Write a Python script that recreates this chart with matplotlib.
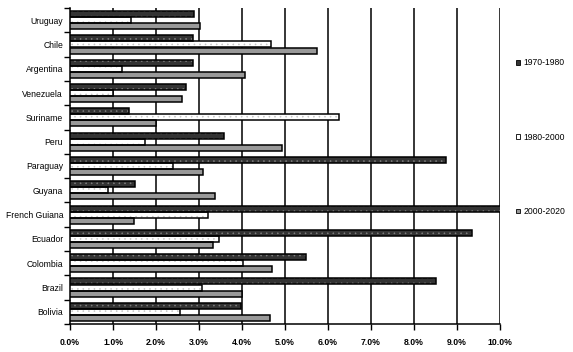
import matplotlib
matplotlib.use("Agg")
import matplotlib.pyplot as plt
from matplotlib.patches import Patch
import numpy as np

countries = ["Bolivia", "Brazil", "Colombia", "Ecuador", "French Guiana", "Guyana",
             "Paraguay", "Peru", "Suriname", "Venezuela", "Argentina", "Chile", "Uruguay"]
s1970_1980 = [3.97, 8.52, 5.48, 9.35, 10.3, 1.51, 8.75, 3.58, 1.38, 2.70, 2.86, 2.87, 2.89]
s1980_2000 = [2.55, 3.08, 4.02, 3.47, 3.20, 0.89, 2.39, 1.74, 6.26, 1.00, 1.20, 4.67, 1.41]
s2000_2020 = [4.65, 3.99, 4.70, 3.32, 1.48, 3.37, 3.09, 4.94, 2.00, 2.61, 4.07, 5.75, 3.03]
series_names = ["1970-1980", "1980-2000", "2000-2020"]
xticks = [0, 1, 2, 3, 4, 5, 6, 7, 8, 9, 10]

plt.rcParams['font.family'] = ['Liberation Sans', 'DejaVu Sans']
plt.rcParams['hatch.linewidth'] = 0.4

W, H = 573, 352
fig = plt.figure(figsize=(W / 100, H / 100), dpi=100)
ax = fig.add_axes([70 / W, 1 - 324 / H, 430 / W, 316 / H])

y = np.arange(len(countries))
bh = 0.247
offs = [0.25, 0.0, -0.25]
faces = ["#333333", "#ffffff", "#999999"]
hatchcols = ["#808080", "#c4c4c4", None]
data = [s1970_1980, s1980_2000, s2000_2020]

for vals, off, fc, hc in zip(data, offs, faces, hatchcols):
    if hc is not None:
        ax.barh(y + off, vals, height=bh, color=fc, edgecolor=hc, hatch='...', linewidth=0, zorder=3)
        ax.barh(y + off, vals, height=bh, fill=False, edgecolor='black', linewidth=1.1, zorder=4)
    else:
        ax.barh(y + off, vals, height=bh, color=fc, edgecolor='black', linewidth=1.1, zorder=3)

ax.set_xlim(0, 10)
ax.set_ylim(-0.5, len(countries) - 0.5)
ax.set_xticks(xticks)
ax.set_xticklabels([f"{v:.1f}%" for v in xticks], fontsize=6.2, fontweight='bold')
ax.set_yticks(np.arange(-0.5, len(countries), 1.0))
ax.set_yticklabels([])
ax.set_yticks(y, minor=True)
ax.set_yticklabels(countries, minor=True, fontsize=6.2)
ax.tick_params(axis='y', which='major', length=4, width=1, direction='out')
ax.tick_params(axis='y', which='minor', length=0, pad=5)
ax.tick_params(axis='x', length=4, width=1, direction='out', pad=6)

for xv in xticks[1:]:
    ax.axvline(xv, color='black', linewidth=1.1, zorder=1)

for s in ['top', 'right']:
    ax.spines[s].set_visible(False)
for s in ['left', 'bottom']:
    ax.spines[s].set_linewidth(1.1)

handles = [Patch(facecolor=faces[0], edgecolor='black', linewidth=0.6),
           Patch(facecolor=faces[1], edgecolor='black', linewidth=0.6),
           Patch(facecolor=faces[2], edgecolor='black', linewidth=0.6)]
fig.legend(handles, series_names, loc='upper left', bbox_to_anchor=(512 / W, 1 - 54 / H),
           frameon=False, fontsize=6.2, handlelength=0.45, handleheight=0.45,
           handletextpad=0.4, labelspacing=7.6, borderpad=0)

fig.savefig("out.png", dpi=100)
